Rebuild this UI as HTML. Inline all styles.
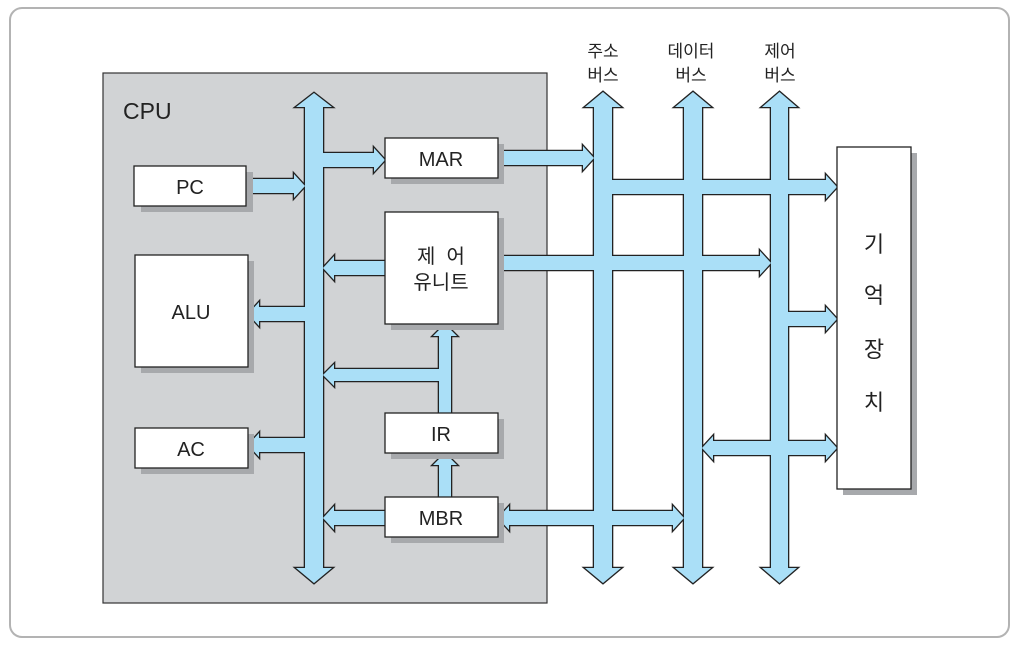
<!DOCTYPE html>
<html><head><meta charset="utf-8"><style>
html,body{margin:0;padding:0;background:#fff;}
svg{display:block;}
text{font-family:"Liberation Sans","Noto Sans CJK KR",sans-serif;fill:#222;}
</style></head><body>
<svg width="1021" height="646" viewBox="0 0 1021 646" xmlns="http://www.w3.org/2000/svg">
<rect x="10" y="8" width="999" height="629" rx="12" fill="#fff" stroke="#b3b3b3" stroke-width="2"/>
<rect x="103" y="73" width="444" height="530" fill="#d1d3d5" stroke="#333" stroke-width="1.2"/>
<text x="123" y="119" font-size="23">CPU</text>

<g fill="#aadff7" stroke="#222" stroke-width="2.6" stroke-linejoin="miter">
<g id="arrs">
<polygon points="305,107 296,107 314,93 332,107 323,107 323,568 332,568 314,583 296,568 305,568"/>
<polygon points="594,107 585,107 603,92 621,107 612,107 612,568 621,568 603,583 585,568 594,568"/>
<polygon points="684,107 675,107 693,92 711,107 702,107 702,568 711,568 693,583 675,568 684,568"/>
<polygon points="771,107 762,107 779.5,92 797,107 788,107 788,568 797,568 779.5,583 762,568 771,568"/>
<polygon points="323,153 374,153 374,148 385,160 374,172 374,167 323,167"/>
<polygon points="498,151 583,151 583,146 594,158 583,170 583,165 498,165"/>
<polygon points="246,179 294,179 294,174 305,186 294,198 294,193 246,193"/>
<polygon points="385,261 334,261 334,256 323,268 334,280 334,275 385,275"/>
<polygon points="498,256 760,256 760,251 771,263 760,275 760,270 498,270"/>
<polygon points="305,307 259,307 259,302 248,314 259,326 259,321 305,321"/>
<polygon points="612,180 826,180 826,175 837,187 826,199 826,194 612,194"/>
<polygon points="788,312 826,312 826,307 837,319 826,331 826,326 788,326"/>
<polygon points="702,448 713,436 713,441 826,441 826,436 837,448 826,460 826,455 713,455 713,460"/>
<polygon points="439,413 439,336 433,336 445,324 457,336 451,336 451,413"/>
<polygon points="439,369 334,369 334,364 323,375 334,386 334,381 439,381"/>
<polygon points="439,497 439,465 433,465 445,453 457,465 451,465 451,497"/>
<polygon points="385,511 334,511 334,506 323,518 334,530 334,525 385,525"/>
<polygon points="305,438 259,438 259,433 248,445 259,457 259,452 305,452"/>
<polygon points="498,518 509,506 509,511 673,511 673,506 684,518 673,530 673,525 509,525 509,530"/>
</g></g>
<g stroke="none" fill="#aadff7"><use href="#arrs"/></g>

<g fill="#a7a9ac">
<rect x="141" y="172" width="112" height="40"/>
<rect x="391" y="144" width="113" height="40"/>
<rect x="391" y="218" width="113" height="112"/>
<rect x="141" y="261" width="113" height="112"/>
<rect x="141" y="434" width="113" height="40"/>
<rect x="391" y="419" width="113" height="40"/>
<rect x="391" y="503" width="113" height="40"/>
<rect x="843" y="153" width="74" height="342"/>
</g>
<g fill="#fff" stroke="#222" stroke-width="1.3">
<rect x="134" y="166" width="112" height="40"/>
<rect x="385" y="138" width="113" height="40"/>
<rect x="385" y="212" width="113" height="112"/>
<rect x="135" y="255" width="113" height="112"/>
<rect x="135" y="428" width="113" height="40"/>
<rect x="385" y="413" width="113" height="40"/>
<rect x="385" y="497" width="113" height="40"/>
<rect x="837" y="147" width="74" height="342"/>
</g>
<g font-size="20" text-anchor="middle">
<text x="190" y="194">PC</text>
<text x="441" y="166">MAR</text>
<text x="441" y="263">제&#160;&#160;어</text>
<text x="441" y="289">유니트</text>
<text x="191" y="319">ALU</text>
<text x="191" y="456">AC</text>
<text x="441" y="441">IR</text>
<text x="441" y="525">MBR</text>
</g>
<g font-size="22" text-anchor="middle">
<text x="874" y="252">기</text>
<text x="874" y="303">억</text>
<text x="874" y="357">장</text>
<text x="874" y="410">치</text>
</g>
<g font-size="17" text-anchor="middle">
<text x="603" y="57">주소</text>
<text x="603" y="81">버스</text>
<text x="691" y="57">데이터</text>
<text x="691" y="81">버스</text>
<text x="780" y="57">제어</text>
<text x="780" y="81">버스</text>
</g>
</svg>
</body></html>
